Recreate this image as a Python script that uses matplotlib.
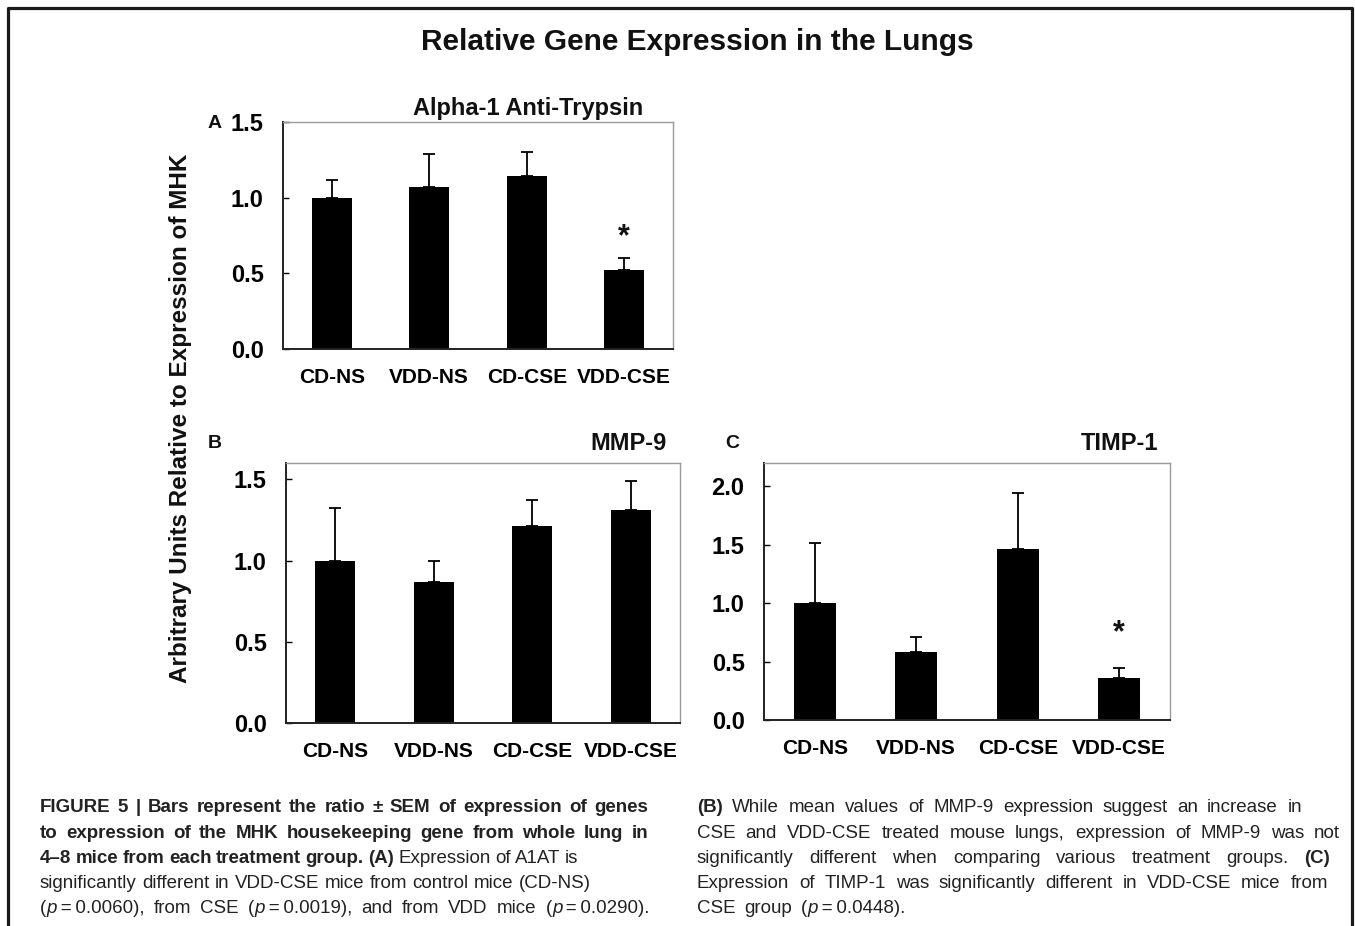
import matplotlib
matplotlib.use("Agg")
import matplotlib.pyplot as plt
from matplotlib import font_manager
from matplotlib.lines import Line2D

# --- data ---
groups = ["CD-NS", "VDD-NS", "CD-CSE", "VDD-CSE"]

a1at_mean = [1.00, 1.07, 1.145, 0.52]
a1at_sem = [0.12, 0.22, 0.155, 0.08]

mmp9_mean = [1.00, 0.87, 1.21, 1.31]
mmp9_sem = [0.325, 0.13, 0.165, 0.18]

timp1_mean = [1.00, 0.58, 1.46, 0.356]
timp1_sem = [0.515, 0.127, 0.483, 0.091]

a1at_ticks = [0.0, 0.5, 1.0, 1.5]
mmp9_ticks = [0.0, 0.5, 1.0, 1.5]
timp1_ticks = [0.0, 0.5, 1.0, 1.5, 2.0]

W, H = 1355, 926
plt.rcParams["font.family"] = ["Liberation Sans", "DejaVu Sans"]
plt.rcParams["text.color"] = "#111111"

fig = plt.figure(figsize=(W / 100, H / 100), dpi=100)
fig.patch.set_facecolor("white")


def px_ax(l, t, r, b):
    return fig.add_axes([l / W, 1 - b / H, (r - l) / W, (b - t) / H])


def bar_panel(ax, means, sems, ticks, ytop, star=None):
    x = range(len(groups))
    ax.bar(x, means, width=0.41, color="black", zorder=2)
    ax.errorbar(x, means, yerr=[[0] * len(sems), sems], fmt="none",
                ecolor="black", elinewidth=1.3, capsize=4, capthick=1.3, zorder=1)
    ax.set_xlim(-0.5, 3.5)
    ax.set_ylim(0, ytop)
    ax.set_yticks(ticks)
    ax.set_yticklabels([f"{t:.1f}" for t in ticks], fontsize=17, fontweight="bold")
    ax.set_xticks(list(x))
    ax.set_xticklabels(groups, fontsize=15, fontweight="bold")
    ax.tick_params(axis="y", direction="in", length=4, width=1, pad=14)
    ax.tick_params(axis="x", length=0, pad=14)
    for s in ["left", "bottom"]:
        ax.spines[s].set_color("#222222")
        ax.spines[s].set_linewidth(1.4)
    for s in ["top", "right"]:
        ax.spines[s].set_color("#9a9a9a")
        ax.spines[s].set_linewidth(1.0)
    if star is not None:
        ax.text(star[0], star[1], "*", ha="center", va="center",
                fontsize=22, fontweight="bold")


axA = px_ax(283, 122, 673, 349)
bar_panel(axA, a1at_mean, a1at_sem, a1at_ticks, 1.5, star=(3, 0.74))
axB = px_ax(286, 463, 680, 723)
bar_panel(axB, mmp9_mean, mmp9_sem, mmp9_ticks, 1.6)
axC = px_ax(764, 463, 1170, 720)
bar_panel(axC, timp1_mean, timp1_sem, timp1_ticks, 2.2, star=(3, 0.74))


def ftext(x, y, s, **kw):
    fig.text(x / W, 1 - y / H, s, **kw)


ftext(697, 42, "Relative Gene Expression in the Lungs", ha="center", va="center",
      fontsize=21.5, fontweight="bold")
ftext(528, 108, "Alpha-1 Anti-Trypsin", ha="center", va="center", fontsize=17, fontweight="bold")
ftext(667, 443, "MMP-9", ha="right", va="center", fontsize=17, fontweight="bold")
ftext(1158, 443, "TIMP-1", ha="right", va="center", fontsize=17, fontweight="bold")
ftext(215, 123, "A", ha="center", va="center", fontsize=14, fontweight="bold")
ftext(215, 443, "B", ha="center", va="center", fontsize=14, fontweight="bold")
ftext(732, 443, "C", ha="center", va="center", fontsize=14, fontweight="bold")
ftext(181, 418, "Arbitrary Units Relative to Expression of MHK", ha="center", va="center",
      rotation=90, fontsize=17.5, fontweight="bold")

# frame (open at the bottom)
fx = [8 / W, 8 / W, 1352 / W, 1352 / W]
fy = [0, 1 - 8 / H, 1 - 8 / H, 0]
fig.add_artist(Line2D(fx, fy, color="#1a1a1a", linewidth=2.3, transform=fig.transFigure))

# --- caption, justified word by word ---
names = {f.name for f in font_manager.fontManager.ttflist}
cap_font = "Liberation Sans Narrow" if "Liberation Sans Narrow" in names else "Liberation Sans"
CAP_SIZE = 13.5


def seg(text, style="n"):
    return (text, style)


def words(text, style="n"):
    return [[seg(w, style)] for w in text.split(" ")]


def pval(v, tail):
    return [[seg("(", "n"), seg("p", "i"), seg("\u2009=\u2009" + v + tail, "n")]]


# (words, right end in px or None for a ragged line)
left_lines = [
    (words("FIGURE 5 | Bars represent the ratio \u00b1 SEM of expression of genes", "b"), 648),
    (words("to expression of the MHK housekeeping gene from whole lung in", "b"), 648),
    (words("4\u20138 mice from each treatment group. (A)", "b") + words("Expression of A1AT is"), 578),
    (words("significantly different in VDD-CSE mice from control mice (CD-NS)"), 591),
    (pval("0.0060", "),") + words("from CSE") + pval("0.0019", "),") + words("and from VDD mice")
     + pval("0.0290", ")."), 650),
]
right_lines = [
    (words("(B)", "b") + words("While mean values of MMP-9 expression suggest an increase in"), 1302),
    (words("CSE and VDD-CSE treated mouse lungs, expression of MMP-9 was not"), 1340),
    (words("significantly different when comparing various treatment groups.") + words("(C)", "b"), 1330),
    (words("Expression of TIMP-1 was significantly different in VDD-CSE mice from"), 1328),
    (words("CSE group") + pval("0.0448", ")."), None),
]
baselines = [812, 838, 863, 888, 913]

renderer = fig.canvas.get_renderer()


def make(x, y, text, style):
    kw = dict(fontsize=CAP_SIZE, family=[cap_font, "DejaVu Sans"], va="baseline", ha="left",
              color="#222222")
    if style == "b":
        kw["fontweight"] = "bold"
    if style == "i":
        kw["fontstyle"] = "italic"
    return fig.text(x / W, 1 - y / H, text, **kw)


def draw_line(wlist, x0, x1, y):
    placed = []
    widths = []
    for w in wlist:
        arts = []
        ww = 0
        for text, style in w:
            t = make(0, y, text, style)
            bb = t.get_window_extent(renderer=renderer)
            arts.append((t, bb.width))
            ww += bb.width
        placed.append(arts)
        widths.append(ww)
    if x1 is None:
        gap = 9
    else:
        gap = max((x1 - x0 - sum(widths)) / max(len(wlist) - 1, 1), 4)
    x = x0
    for arts, ww in zip(placed, widths):
        xx = x
        for t, w in arts:
            t.set_x(xx / W)
            xx += w
        x += ww + gap


for (wl, end), yb in zip(left_lines, baselines):
    draw_line(wl, 40, end, yb)
for (wl, end), yb in zip(right_lines, baselines):
    draw_line(wl, 697, end, yb)

fig.savefig("out.png", dpi=100)
